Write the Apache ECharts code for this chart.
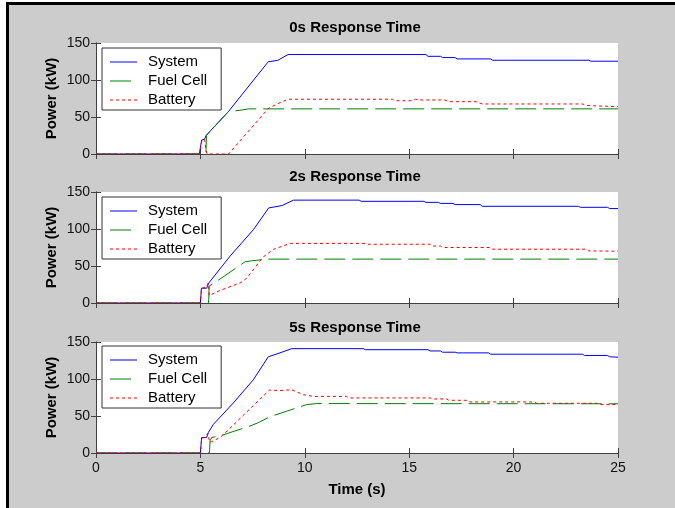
<!DOCTYPE html>
<html>
<head>
<meta charset="utf-8">
<script src="https://cdn.jsdelivr.net/npm/echarts@6/dist/echarts.min.js"></script>
<style>
  html, body { margin: 0; background: #fff; }
  #frame {
    position: absolute; left: 6px; top: 2px; width: 669px; height: 506px;
    box-sizing: border-box; border-top: 3px solid #000; border-left: 3px solid #000;
    background: #ccc;
  }
  #chart { position: absolute; left: 0; top: 0; width: 675px; height: 508px; }
</style>
</head>
<body>
<div id="frame"></div>
<div id="chart"></div>
<script>
// time (s), power (kW)
const titles = ['0s Response Time', '2s Response Time', '5s Response Time'];
const seriesNames = ['System', 'Fuel Cell', 'Battery'];
const xTicks = [0, 25, 5];
const yTicks = [0, 150, 50];

const sys0 = [[0, 0], [4.95, 0], [5.06, 19], [5.2, 20], [5.27, 25], [6.34, 57.3], [8.25, 124.7], [8.7, 126.5],
  [9.2, 134.4], [15.8, 134.4], [15.9, 132], [16.5, 132], [16.6, 130.3], [17.2, 130.3], [17.3, 128.5],
  [18.9, 128.5], [19.0, 126.7], [23.6, 126.7], [23.7, 125.4], [25, 125.4]];
const fc0 = [[0, 0], [5.27, 0], [5.27, 6], [5.29, 25], [6.34, 57.3], [7.0, 59.5], [7.3, 61], [25, 61]];
const bat0 = [[0, 0], [4.95, 0], [5.08, 19], [5.2, 20], [5.27, 5], [5.32, 0], [6.35, 0], [8.25, 61.5],
  [8.7, 68], [9.2, 74], [14.2, 74], [14.3, 72], [15.1, 72], [15.3, 74], [15.5, 73], [16.7, 73],
  [16.9, 70.7], [18.2, 70.7], [18.5, 67.6], [23.3, 67.6], [23.5, 65.5], [25, 64]];

const sys2 = [[0, 0], [5.0, 0], [5.05, 20], [5.3, 20], [5.4, 27], [6.43, 63.7], [7.55, 99.5], [8.27, 128.5],
  [8.9, 131.6], [9.46, 139], [12.6, 139], [12.7, 137.4], [15.7, 137.4], [15.8, 136], [16.4, 136],
  [16.5, 134.6], [17.1, 134.6], [17.2, 133], [18.4, 133], [18.5, 130.7], [23.1, 130.7], [23.2, 129.3],
  [24.5, 129.3], [24.6, 127.6], [25, 127.6]];
const fc2 = [[0, 0], [5.38, 0], [5.4, 5], [5.42, 22.8], [5.82, 30], [6.18, 37], [7.14, 55.7], [7.45, 57],
  [8.2, 59.3], [25, 59.3]];
const bat2 = [[0, 0], [5.0, 0], [5.05, 20], [5.25, 21], [5.38, 27], [5.42, 10], [5.94, 17], [6.9, 27],
  [7.2, 33], [8.0, 62], [8.5, 72.5], [9.3, 80.5], [12.9, 80.5], [13.0, 79.4], [16.0, 79.4], [16.1, 77],
  [16.5, 77], [16.6, 75], [18.9, 75], [19.0, 72.7], [23.5, 72.7], [23.6, 70.4], [25, 70]];

const sys5 = [[0, 0], [5.0, 0], [5.06, 21], [5.3, 21], [5.38, 27.6], [5.62, 38.7], [6.58, 67.7], [7.53, 98.8],
  [8.25, 130], [8.81, 135.3], [9.37, 141], [12.8, 141], [12.9, 139.6], [15.9, 139.6], [16.0, 137.9],
  [16.5, 137.9], [16.6, 136.2], [17.2, 136.2], [17.3, 135.3], [18.8, 135.3], [18.9, 133.5], [23.3, 133.5],
  [23.4, 131.8], [24.5, 131.8], [24.6, 130], [25, 129.5]];
const fc5 = [[0, 0], [5.42, 0], [5.44, 3], [5.46, 16.4], [5.54, 21], [5.94, 23], [6.42, 27.6], [7.38, 36.5],
  [7.77, 41], [8.33, 49], [9.13, 56.5], [10.09, 65.4], [10.57, 66.8], [25, 66.5]];
const bat5 = [[0, 0], [5.0, 0], [5.06, 20], [5.25, 21], [5.35, 26.7], [5.45, 14.2], [5.62, 16.4], [5.94, 21],
  [6.18, 27], [8.3, 85], [8.81, 84.5], [9.37, 85.4], [9.93, 78.8], [10.41, 76.5], [12.0, 76.5], [12.1, 74.4],
  [16.0, 74.4], [16.1, 73], [16.8, 73], [16.9, 71.2], [17.8, 71.2], [17.9, 69], [21.0, 69], [21.1, 67.2],
  [24.0, 67.2], [24.1, 65.4], [25, 65.4]];

const panelData = [[sys0, fc0, bat0], [sys2, fc2, bat2], [sys5, fc5, bat5]];

const font = '"Liberation Sans", Arial, sans-serif';
const axisColor = '#404040';
const gridTops = [43, 192, 342];
const legendTops = [48, 197, 346];
const titleTops = [20, 169, 320];
const styles = [
  { color: '#0000ff', type: 'solid', icon: 'path://M0,0h27v1h-27z' },
  { color: '#008000', type: [21, 7], icon: 'path://M0,0h21v1h-21zM27,0v1z' },
  { color: '#ff0000', type: [3, 3],
    icon: 'path://M0,0h3v1h-3zM6,0h3v1h-3zM12,0h3v1h-3zM18,0h3v1h-3zM24,0h3v1h-3z' },
];

const grid = [], xAxis = [], yAxis = [], series = [], legend = [], title = [];

panelData.forEach((lines, i) => {
  // each panel gets its own series names so the three legends don't share items
  const ids = seriesNames.map((n) => n + '#' + i);

  grid.push({ left: 96, width: 522, top: gridTops[i], height: 111, show: true,
    backgroundColor: '#fff', borderWidth: 0 });
  title.push({ text: titles[i], left: 355, top: titleTops[i], textAlign: 'center', padding: 0,
    textStyle: { fontFamily: font, fontSize: 15, fontWeight: 'bold', color: '#000' } });

  ['bottom', 'top'].forEach((pos) => {
    const main = pos === 'bottom';
    xAxis.push({
      gridIndex: i, type: 'value', position: pos,
      min: xTicks[0], max: xTicks[1], interval: xTicks[2],
      axisLine: { show: true, lineStyle: { color: axisColor, width: 1 } },
      axisTick: { show: true, inside: true, length: 5, lineStyle: { color: axisColor } },
      axisLabel: { show: main && i === 2, margin: 8, color: '#111', fontFamily: font, fontSize: 14 },
      splitLine: { show: false },
      name: main && i === 2 ? 'Time (s)' : '', nameLocation: 'middle', nameGap: 29,
      nameTextStyle: { fontFamily: font, fontSize: 15, fontWeight: 'bold', color: '#000' },
    });
  });
  ['left', 'right'].forEach((pos) => {
    const main = pos === 'left';
    yAxis.push({
      gridIndex: i, type: 'value', position: pos,
      min: yTicks[0], max: yTicks[1], interval: yTicks[2],
      axisLine: { show: true, lineStyle: { color: axisColor, width: 1 } },
      axisTick: { show: true, inside: true, length: 5, lineStyle: { color: axisColor } },
      axisLabel: { show: main, margin: 6, color: '#111', fontFamily: font, fontSize: 14 },
      splitLine: { show: false },
      name: main ? 'Power (kW)' : '', nameLocation: 'middle', nameGap: 37, nameRotate: 90,
      nameMoveOverlap: false,
      nameTextStyle: { fontFamily: font, fontSize: 15, fontWeight: 'bold', color: '#000' },
    });
  });

  lines.forEach((data, k) => {
    series.push({
      name: ids[k], type: 'line', xAxisIndex: 2 * i, yAxisIndex: 2 * i,
      data, symbol: 'none', showSymbol: false, silent: true,
      lineStyle: { color: styles[k].color, type: styles[k].type, width: 1 },
      itemStyle: { color: styles[k].color },
    });
  });

  legend.push({
    data: ids.map((name, k) => ({
      name, icon: styles[k].icon,
      itemStyle: { color: styles[k].color, borderWidth: 0, opacity: 1 },
    })),
    orient: 'vertical', left: 102, top: legendTops[i],
    formatter: (name) => name.split('#')[0],
    backgroundColor: '#fff', borderColor: '#333', borderWidth: 1, borderRadius: 0,
    padding: [6, 14, 2, 8], itemWidth: 27, itemHeight: 1, itemGap: 3,
    selectedMode: false,
    textStyle: { fontFamily: font, fontSize: 15, lineHeight: 16, color: '#000', padding: [0, 0, 0, 6] },
  });
});

const chart = echarts.init(document.getElementById('chart'));
chart.setOption({ animation: false, grid, xAxis, yAxis, series, legend, title });
</script>
</body>
</html>
